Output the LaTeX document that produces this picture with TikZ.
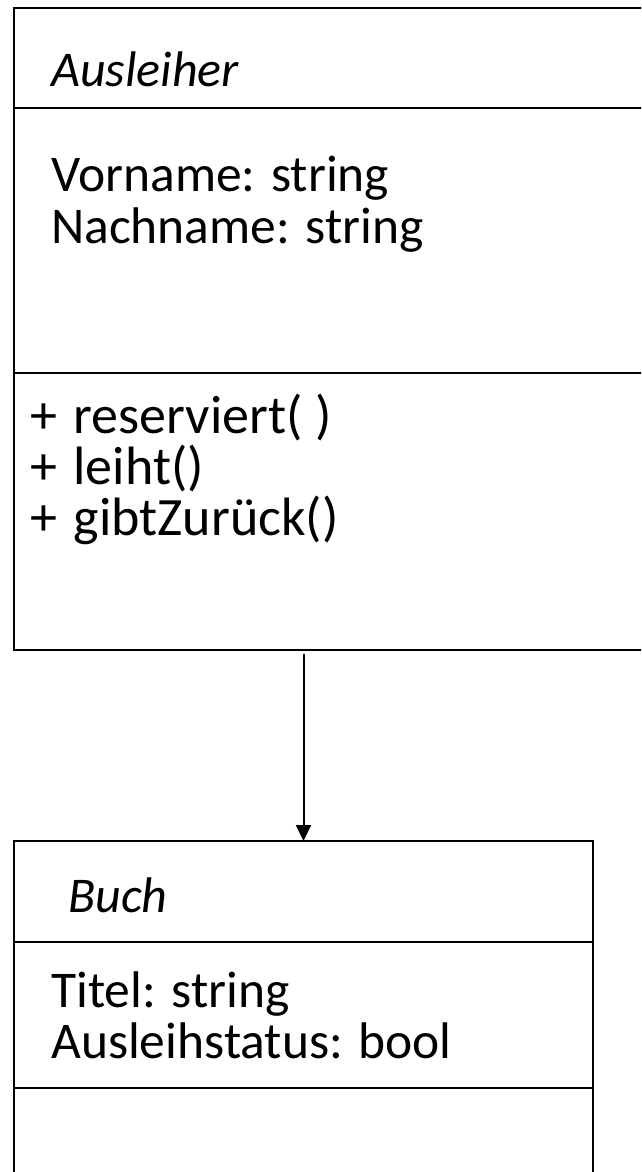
\documentclass[tikz,border=0pt]{standalone}
\usepackage{fontspec}
\setmainfont{Carlito}
\usetikzlibrary{arrows.meta}
\begin{document}
\begin{tikzpicture}[x=1pt,y=-1pt,
  box/.style={draw=black, line width=2pt, anchor=north west, inner sep=0pt, outer sep=0pt},
  sep/.style={draw=black, line width=2pt},
  title/.style={anchor=base west, inner sep=0pt, font=\fontsize{50}{52}\selectfont\itshape},
  body/.style={anchor=base west, inner sep=0pt, font=\fontsize{51.5}{54}\selectfont},
  op/.style={anchor=base west, inner sep=0pt, font=\fontsize{54}{56}\selectfont},
  assoc/.style={draw=black, line width=2pt, -{Triangle[length=16pt,width=15pt]}}]
\useasboundingbox (0,0) rectangle (641,1172);
\clip (0,0) rectangle (641,1172);
% class Ausleiher
\node[box, minimum width=700pt, minimum height=642pt] (ausleiher) at (14,8) {};
\draw[sep] (ausleiher.west |- 0,108) -- (ausleiher.east |- 0,108);
\draw[sep] (ausleiher.west |- 0,373) -- (ausleiher.east |- 0,373);
\node[title] (aname) at (51,86) {Ausleiher};
\node[body] (a1) at (51,191) {Vorname: string};
\node[body] (a2) at (51,243) {Nachname: string};
\node[op] (o1) at (30,433) {+\hspace{0.08em} reserviert( )};
\node[op] (o2) at (30,484) {+\hspace{0.08em} leiht()};
\node[op] (o3) at (30,535) {+\hspace{0.08em} gibtZurück()};
% class Buch
\node[box, minimum width=579pt, minimum height=400pt] (buch) at (14,841) {};
\draw[sep] (buch.west |- 0,942) -- (buch.east |- 0,942);
\draw[sep] (buch.west |- 0,1088) -- (buch.east |- 0,1088);
\node[title] (bname) at (68,912) {Buch};
\node[body] (b1) at (51,1007) {Titel: string};
\node[body] (b2) at (51,1058) {Ausleihstatus: bool};
% association
\coordinate (start) at ([yshift=-4pt]ausleiher.south -| buch.north);
\draw[assoc] (start) -- (buch.north);
\end{tikzpicture}
\end{document}
